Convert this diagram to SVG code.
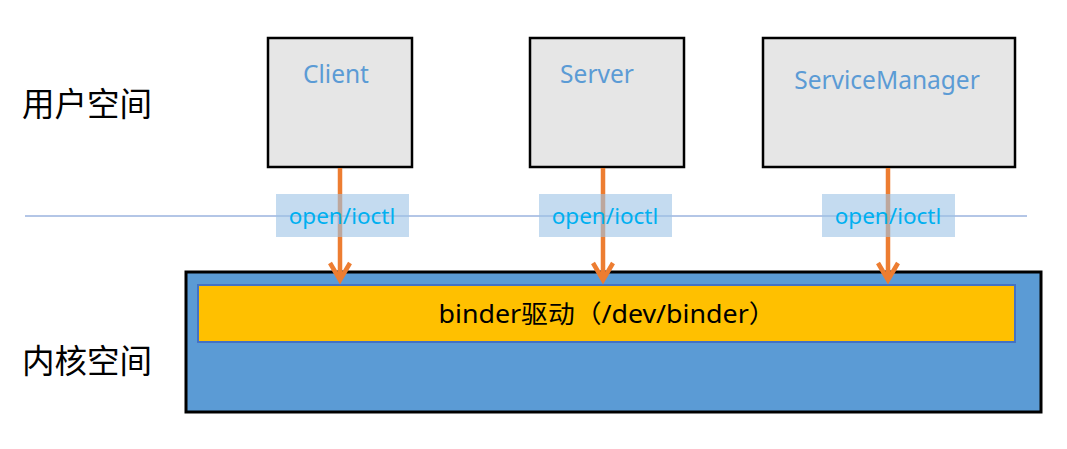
<svg xmlns="http://www.w3.org/2000/svg" width="1067" height="449" viewBox="0 0 1067 449">
<style>
.proc{fill:#e6e6e6;stroke:#000;stroke-width:2.5}
.ptxt{font-family:"Noto Sans","Noto Sans CJK SC",sans-serif;font-size:24.5px;fill:#5b9bd5;text-anchor:middle}
.lbl{fill:#9dc3e6;opacity:0.6}
.ltxt{font-family:"Noto Sans","Noto Sans CJK SC",sans-serif;font-size:22.5px;fill:#00b0f0;text-anchor:middle}
.side{font-family:"Noto Sans CJK SC",sans-serif;font-size:32.5px;fill:#000}
.arr{stroke:#ed7d31;stroke-width:4.5;fill:none}
</style>
<rect width="1067" height="449" fill="#fff"/>
<g id="user-space-label"><text class="side" x="22" y="116">用户空间</text></g>
<g id="kernel-space-label"><text class="side" x="22" y="373">内核空间</text></g>
<line id="divider" x1="25" y1="216" x2="1027" y2="216" stroke="#4472c4" stroke-width="1" opacity="0.8"/>
<g id="kernel"><rect x="186" y="272" width="855" height="140" fill="#5b9bd5" stroke="#000" stroke-width="3"/></g>
<g id="binder"><rect x="198" y="285" width="817" height="57" fill="#ffc000" stroke="#4472c4" stroke-width="2"/>
<text x="607" y="323" font-family="Noto Sans,Noto Sans CJK SC,sans-serif" font-size="25" fill="#000" text-anchor="middle" textLength="337" lengthAdjust="spacingAndGlyphs">binder驱动（/dev/binder）</text></g>
<g id="client"><rect class="proc" x="268" y="38" width="144" height="129"/><text class="ptxt" x="336" y="83">Client</text></g>
<g id="server"><rect class="proc" x="530" y="38" width="154" height="129"/><text class="ptxt" x="597" y="83">Server</text></g>
<g id="servicemanager"><rect class="proc" x="763" y="38" width="252" height="129"/><text class="ptxt" x="887" y="89">ServiceManager</text></g>
<g id="connectors">
<path class="arr" d="M340 168V280M330 263L340 280L350 263"/>
<path class="arr" d="M603 168V280M593 263L603 280L613 263"/>
<path class="arr" d="M888 168V280M878 263L888 280L898 263"/>
<rect class="lbl" x="276" y="194" width="133" height="43"/>
<rect class="lbl" x="539" y="194" width="133" height="43"/>
<rect class="lbl" x="822" y="194" width="133" height="43"/>
<text class="ltxt" x="342" y="224">open/ioctl</text>
<text class="ltxt" x="605" y="224">open/ioctl</text>
<text class="ltxt" x="888" y="224">open/ioctl</text>
</g>
</svg>
